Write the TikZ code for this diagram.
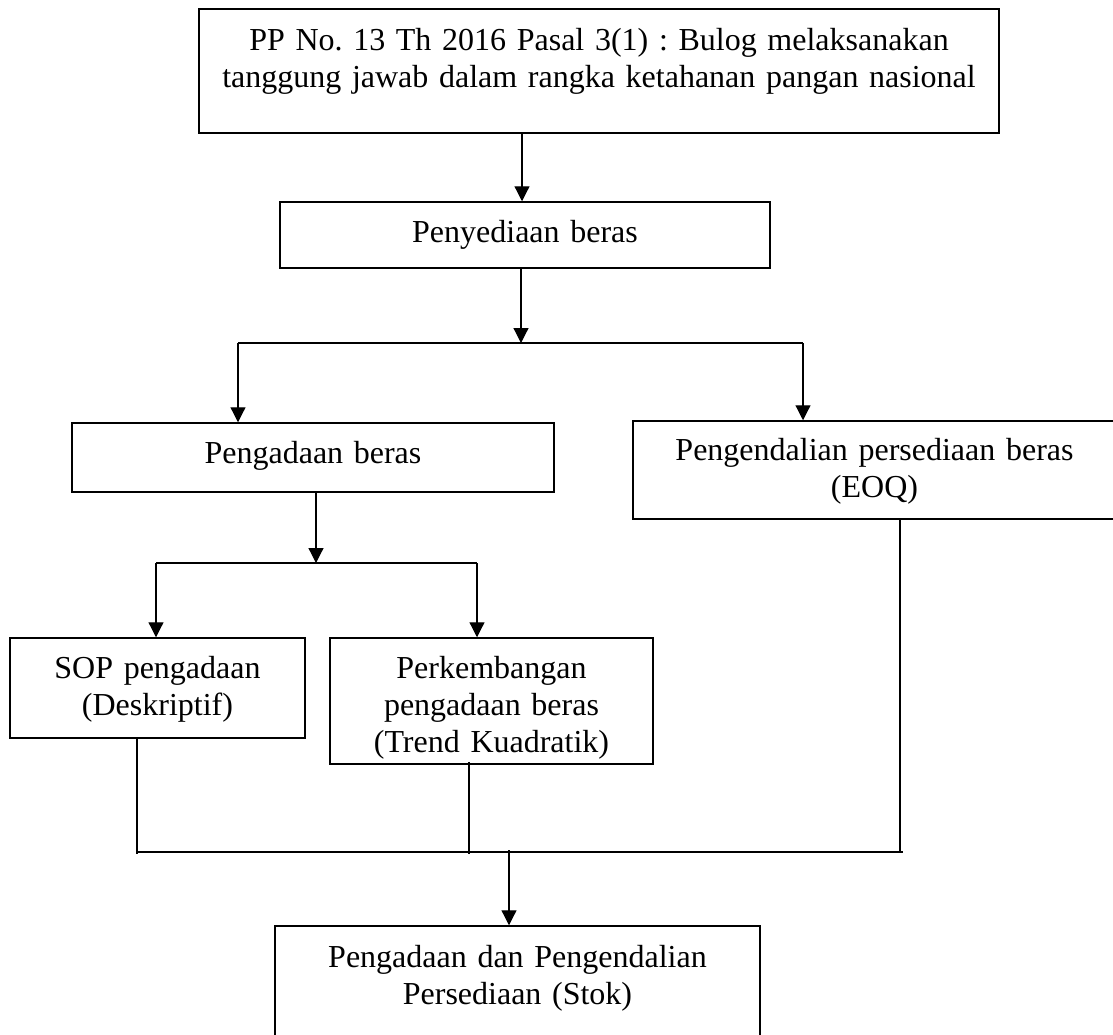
\documentclass[tikz,border=0pt]{standalone}
\usepackage{fontspec}
\setmainfont{Liberation Serif}
\usetikzlibrary{arrows.meta}
\frenchspacing
\begin{document}
\begin{tikzpicture}[x=1pt,y=-1pt,
  box/.style={draw, line width=1.5pt, inner sep=0pt, align=center, anchor=base,
              font=\fontsize{32}{37}\selectfont\frenchspacing},
  link/.style={line width=1.2pt},
  bar/.style={line width=1.8pt},
  arr/.style={line width=1.2pt, -{Triangle[length=15pt,width=15pt]}}]
\useasboundingbox (0,0) rectangle (1113,1034);
% boxes: at (centre x, first baseline)
\node[box, text width=800pt, text height=41pt, text depth=83pt] (b1) at (599,50)
  {PP No. 13 Th 2016 Pasal 3(1) : Bulog melaksanakan\\tanggung jawab dalam rangka ketahanan pangan nasional};
\node[box, text width=490pt, text height=40pt, text depth=26pt] (b2) at (525,242) {Penyediaan beras};
\node[box, text width=482pt, text height=40pt, text depth=29pt] (b3) at (313,463) {Pengadaan beras};
\node[box, text width=483pt, text height=39pt, text depth=59pt] (b4) at (874.5,460)
  {Pengendalian persediaan beras\\(EOQ)};
\node[box, text width=295pt, text height=40pt, text depth=60pt] (b5) at (157.5,678)
  {SOP pengadaan\\(Deskriptif)};
\node[box, text width=323pt, text height=40pt, text depth=86pt] (b6) at (491.5,678)
  {Perkembangan\\pengadaan beras\\(Trend Kuadratik)};
\node[box, text width=485pt, text height=41pt, text depth=90pt] (b7) at (517.5,967)
  {Pengadaan dan Pengendalian\\Persediaan (Stok)};
% junction points
\coordinate (j0)  at (522,133);
\coordinate (j1)  at (521,343);
\coordinate (j1l) at (238,343);
\coordinate (j1r) at (803,343);
\coordinate (j2)  at (316,563);
\coordinate (j2l) at (156,563);
\coordinate (j2r) at (477,563);
\coordinate (j3a) at (137,854);
\coordinate (j3b) at (469,854);
\coordinate (j3c) at (900,852);
\coordinate (j3l) at (137,852);
\coordinate (j3r) at (903,852);
\coordinate (j3m) at (509,850);
% connectors
\draw[arr] (b1.south -| j0) -- (b2.north -| j0);
\draw[arr] (b2.south -| j1) -- (j1);
\draw[bar] (j1l) -- (j1r);
\draw[arr] (j1l) -- (j1l |- b3.north);
\draw[arr] (j1r) -- (j1r |- b4.north);
\draw[arr] (b3.south -| j2) -- (j2);
\draw[bar] (j2l) -- (j2r);
\draw[arr] (j2l) -- (j2l |- b5.north);
\draw[arr] (j2r) -- (j2r |- b6.north);
\draw[link] (b5.south -| j3a) -- (j3a);
\draw[link] ([yshift=3pt]b6.south -| j3b) -- (j3b);
\draw[link] (b4.south -| j3c) -- (j3c);
\draw[bar] (j3l) -- (j3r);
\draw[arr] (j3m) -- (j3m |- b7.north);
\end{tikzpicture}
\end{document}
